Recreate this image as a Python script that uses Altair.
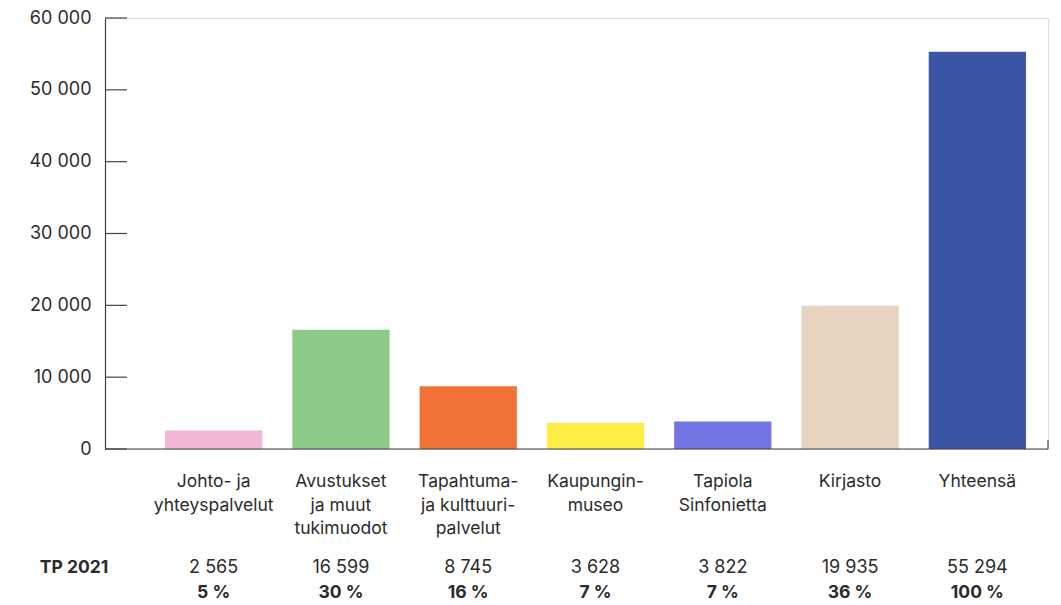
import altair as alt
import pandas as pd

categories = ["Johto- ja\nyhteyspalvelut", "Avustukset\nja muut\ntukimuodot",
              "Tapahtuma-\nja kulttuuri-\npalvelut", "Kaupungin-\nmuseo",
              "Tapiola\nSinfonietta", "Kirjasto", "Yhteensä"]
values = [2565, 16599, 8745, 3628, 3822, 19935, 55294]
percents = [5, 30, 16, 7, 7, 36, 100]
colors = ["#f4b6d5", "#8dca88", "#f07234", "#ffec45", "#7375e5", "#e6d4c1", "#3b55a4"]
y_ticks = [0, 10000, 20000, 30000, 40000, 50000, 60000]
row_label = "TP 2021"

W, H = 943, 431
FONT = "Inter"
TXT = "#2b2b2b"
AX = "#444444"

keys = [f"c{i}" for i in range(len(categories))]
df = pd.DataFrame({
    "key": keys,
    "label": categories,
    "value": values,
    "vtxt": [f"{v:,}".replace(",", " ") for v in values],
    "ptxt": [f"{p} %" for p in percents],
})

xs = alt.Scale(domain=keys, range=[45, 936], paddingInner=0.236, paddingOuter=0.118)
ys = alt.Scale(domain=[0, 60000], nice=False)

base = alt.Chart(df)

bars = base.mark_bar().encode(
    x=alt.X("key:N", scale=xs, axis=None, sort=keys),
    y=alt.Y("value:Q", scale=ys, axis=alt.Axis(
        values=y_ticks, ticks=False, grid=False, title=None, domain=True,
        domainColor=AX, domainWidth=1.2, labelPadding=14, labelFontSize=18,
        labelColor=TXT, labelFont=FONT,
        labelExpr="replace(format(datum.value, ','), regexp(',', 'g'), ' ')")),
    color=alt.Color("key:N", scale=alt.Scale(domain=keys, range=colors), legend=None),
)

tick_df = pd.DataFrame({"t": y_ticks})
yt = alt.Chart(tick_df).mark_rule(color=AX, strokeWidth=1.2).encode(
    y=alt.Y("t:Q", scale=ys), x=alt.value(0), x2=alt.value(22))

one = pd.DataFrame({"a": [0]})
xaxis = alt.Chart(one).mark_rule(color=AX, strokeWidth=1.2).encode(
    x=alt.value(0), x2=alt.value(W), y=alt.value(H))
xend = alt.Chart(one).mark_rule(color=AX, strokeWidth=1.2).encode(
    x=alt.value(W), y=alt.value(H - 9), y2=alt.value(H))

cat = base.mark_text(baseline="top", align="center", fontSize=17.5, font=FONT,
                     color=TXT, lineBreak="\n", lineHeight=23.5).encode(
    x=alt.X("key:N", scale=xs, sort=keys), y=alt.value(H + 24), text="label:N")

vrow = base.mark_text(baseline="middle", align="center", fontSize=18, font=FONT,
                      color=TXT).encode(
    x=alt.X("key:N", scale=xs, sort=keys), y=alt.value(H + 119), text="vtxt:N")

prow = base.mark_text(baseline="middle", align="center", fontSize=17.5, font=FONT,
                      fontWeight="bold", color=TXT).encode(
    x=alt.X("key:N", scale=xs, sort=keys), y=alt.value(H + 144), text="ptxt:N")

lab = alt.Chart(pd.DataFrame({"t": [row_label]})).mark_text(
    baseline="middle", align="center", fontSize=17.5, font=FONT,
    fontWeight="bold", color=TXT).encode(
    x=alt.value(-31), y=alt.value(H + 119), text="t:N")

chart = alt.layer(bars, yt, xaxis, xend, cat, vrow, prow, lab).properties(
    width=W, height=H,
    padding={"left": 97, "top": 10, "right": 5, "bottom": 156},
    autosize="none",
).configure_view(stroke=None).configure(font=FONT)

chart.save("out.html", embed_options={"renderer": "svg", "actions": False})
